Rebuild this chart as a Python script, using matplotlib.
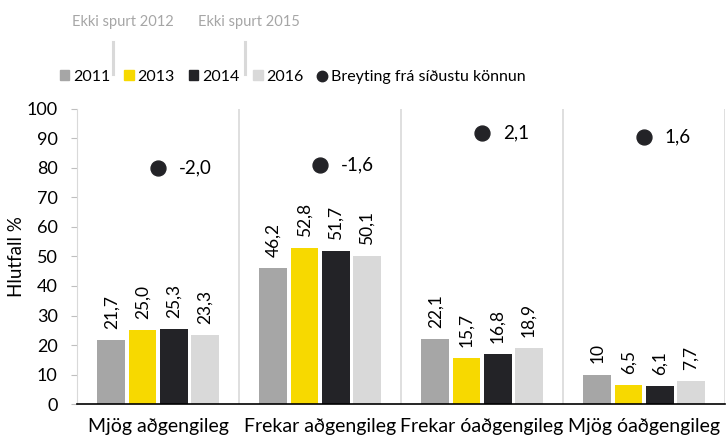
import matplotlib
matplotlib.use('Agg')
import matplotlib.pyplot as plt
from matplotlib.lines import Line2D
from matplotlib.patches import Patch
import numpy as np

plt.rcParams['font.family'] = ['Lato', 'DejaVu Sans']

# data
categories = ['Mjög aðgengileg', 'Frekar aðgengileg', 'Frekar óaðgengileg', 'Mjög óaðgengileg']
years = ['2011', '2013', '2014', '2016']
v2011 = [21.7, 46.2, 22.1, 10.0]
v2013 = [25.0, 52.8, 15.7, 6.5]
v2014 = [25.3, 51.7, 16.8, 6.1]
v2016 = [23.3, 50.1, 18.9, 7.7]
lab2011 = ['21,7', '46,2', '22,1', '10']
lab2013 = ['25,0', '52,8', '15,7', '6,5']
lab2014 = ['25,3', '51,7', '16,8', '6,1']
lab2016 = ['23,3', '50,1', '18,9', '7,7']
change_y = [80, 81, 92, 90.5]
change_lab = ['-2,0', '-1,6', '2,1', '1,6']

colors = ['#a6a6a6', '#f7d900', '#232327', '#d9d9d9']
fs = 13

fig = plt.figure(figsize=(7.28, 4.4), dpi=100)
ax = fig.add_axes([0.1058, 0.0818, 0.8902, 0.6705])

x = np.arange(len(categories))
w = 0.172
series = [v2011, v2013, v2014, v2016]
labels = [lab2011, lab2013, lab2014, lab2016]
for i, (vals, labs) in enumerate(zip(series, labels)):
    xs = x + (i - 1.5) * (w + 0.02)
    ax.bar(xs, vals, width=w, color=colors[i], zorder=2)
    for xx, vv, ll in zip(xs, vals, labs):
        ax.annotate(ll, (xx, vv), xytext=(0, 8), textcoords='offset points',
                    rotation=90, ha='center', va='bottom', fontsize=12.5)

ax.scatter(x, change_y, s=115, color='#232327', zorder=3)
for xx, yy, ll in zip(x, change_y, change_lab):
    ax.annotate(ll, (xx, yy), xytext=(15, 0), textcoords='offset points',
                ha='left', va='center', fontsize=13.5)

for b in [0.5, 1.5, 2.5, 3.5]:
    ax.axvline(b, color='#d9d9d9', lw=1.2, zorder=1)

ax.set_xlim(-0.5, 3.5)
ax.set_ylim(0, 100)
ax.set_yticks(np.arange(0, 101, 10))
ax.set_xticks(x)
ax.set_xticklabels(categories, fontsize=14)
ax.tick_params(axis='x', length=0, pad=10)
ax.tick_params(axis='y', labelsize=fs, length=4, color='#bfbfbf', pad=10)
for s in ['top', 'right']:
    ax.spines[s].set_visible(False)
ax.spines['left'].set_color('#d9d9d9')
ax.spines['bottom'].set_color('black')
ax.spines['bottom'].set_linewidth(1.2)
ax.set_ylabel('Hlutfall %', fontsize=13.5, labelpad=1)

handles = [Patch(color=c) for c in colors] + [
    Line2D([], [], marker='o', ls='', color='#232327', markersize=7.5)]
fig.legend(handles, years + ['Breyting frá síðustu könnun'], loc='center left',
           bbox_to_anchor=(0.082, 0.825), ncol=5, frameon=False, fontsize=11.5,
           handlelength=0.6, handleheight=0.6, handletextpad=0.25, columnspacing=0.85,
           borderpad=0, borderaxespad=0)

fig.text(0.099, 0.95, 'Ekki spurt 2012', color='#a6a6a6', fontsize=10.5, va='center')
fig.text(0.272, 0.95, 'Ekki spurt 2015', color='#a6a6a6', fontsize=10.5, va='center')
fig.add_artist(Line2D([0.155, 0.155], [0.832, 0.905], color='#d9d9d9', lw=2.2))
fig.add_artist(Line2D([0.337, 0.337], [0.832, 0.905], color='#d9d9d9', lw=2.2))

fig.savefig('out.png', dpi=100)
